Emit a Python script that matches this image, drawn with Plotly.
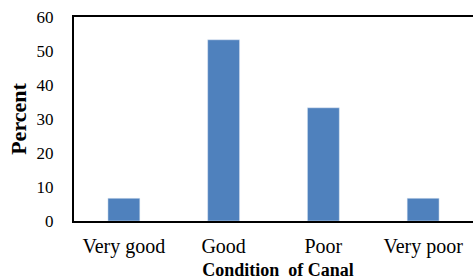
import plotly.graph_objects as go

categories = ["Very good", "Good", "Poor", "Very poor"]
percent = [6.7, 53.3, 33.3, 6.7]
y_ticks = [0, 10, 20, 30, 40, 50, 60]

fig = go.Figure(go.Bar(x=categories, y=percent, marker_color="#4F81BD", width=0.32))

font = "Liberation Serif, Times New Roman, serif"
fig.update_layout(
    width=473, height=280,
    margin=dict(l=74, r=0, t=17, b=59),
    plot_bgcolor="white", paper_bgcolor="white",
    font=dict(family=font, size=16, color="black"),
    showlegend=False,
)
fig.update_xaxes(
    range=[-0.5, 3.5], showline=True, linecolor="black", linewidth=2, mirror=True,
    ticks="outside", ticklen=6, tickcolor="white", showgrid=False, tickfont=dict(size=20),
    title=dict(text="&nbsp;&nbsp;<b>Condition&nbsp; of Canal</b>", font=dict(size=18), standoff=7),
    automargin=False,
)
fig.update_yaxes(
    range=[0, 60], tickvals=y_ticks, showline=True, linecolor="black", linewidth=2,
    showgrid=False, ticks="outside", ticklen=15, tickcolor="white", tickfont=dict(size=17),
    title=dict(text="<b>Percent</b>", font=dict(size=22), standoff=4),
    zeroline=False, automargin=False,
)
fig.write_html("out.html", config={"displayModeBar": False},
               post_script="document.body.style.margin='0px';")
